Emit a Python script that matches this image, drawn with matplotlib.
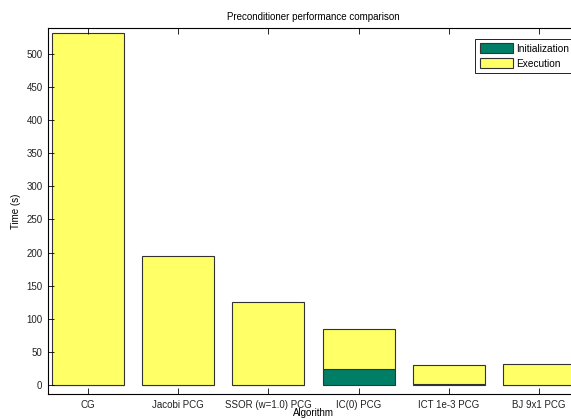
import matplotlib
matplotlib.use("Agg")
import matplotlib.pyplot as plt
import numpy as np

plt.rcParams['font.family'] = ['Liberation Sans', 'DejaVu Sans']

algorithms = ["CG", "Jacobi PCG", "SSOR (w=1.0) PCG", "IC(0) PCG", "ICT 1e-3 PCG", "BJ 9x1 PCG"]
init_time = [0.0, 0.0, 0.0, 23.7, 1.0, 0.3]
exec_time = [530.7, 195.0, 125.0, 60.3, 29.7, 31.9]
y_ticks = [0, 50, 100, 150, 200, 250, 300, 350, 400, 450, 500]

fig = plt.figure(figsize=(5.71, 4.19), dpi=100)
ax = fig.add_axes([48 / 571, 1 - 394 / 419, (579 - 48) / 571, (394 - 28) / 419])

x = np.arange(1, len(algorithms) + 1)
edge = "#333333"
ax.bar(x, init_time, width=0.8, color="#007F66", edgecolor=edge, linewidth=0.8,
       label="Initialization")
ax.bar(x, exec_time, width=0.8, bottom=init_time, color="#FFFF66", edgecolor=edge,
       linewidth=0.8, label="Execution")

ax.set_xlim(0.557, 6.443)
ax.set_ylim(-13.6, 539)
ax.set_xticks(x)
ax.set_xticklabels(algorithms)
ax.set_yticks(y_ticks)
ax.tick_params(direction="in", length=4, width=0.6, labelsize=7, top=True, right=True,
               colors="black", labelcolor="#222222", pad=4)
for s in ax.spines.values():
    s.set_linewidth(0.8)

ax.set_title("Preconditioner performance comparison", fontsize=7, pad=6)
ax.set_xlabel("Algorithm", fontsize=7, labelpad=-1)
ax.set_ylabel("Time (s)", fontsize=7, labelpad=4)

leg = ax.legend(loc="upper right", bbox_to_anchor=(1.0, 0.984), fontsize=7.3, fancybox=False,
                edgecolor="black", framealpha=1, handlelength=3.3, handleheight=1.1,
                borderpad=0.45, labelspacing=0.45, handletextpad=0.3)
leg.get_frame().set_linewidth(0.6)

fig.savefig("out.png", dpi=100)
